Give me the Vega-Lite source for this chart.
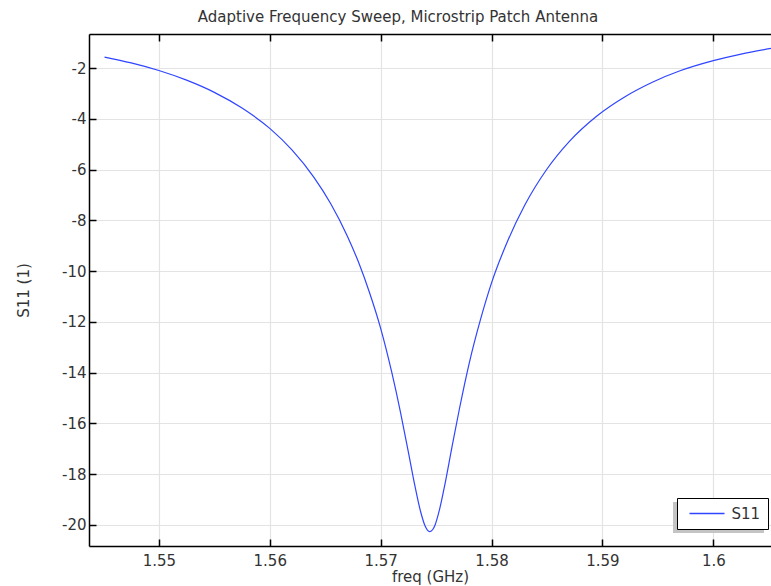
{
  "$schema": "https://vega.github.io/schema/vega-lite/v6.json",
  "width": 682,
  "height": 512,
  "autosize": {"type": "none"},
  "padding": {"left": 89, "top": 34, "right": 0, "bottom": 40},
  "background": "white",
  "config": {
    "view": {"stroke": null},
    "font": "DejaVu Sans"
  },
  "title": {
    "text": "Adaptive Frequency Sweep, Microstrip Patch Antenna",
    "fontSize": 15,
    "fontWeight": "normal",
    "color": "#333333",
    "anchor": "middle",
    "dx": -32,
    "offset": 8
  },
  "data": {
    "values": [
      {"freq": 1.5451, "s11": -1.56, "series": "S11"},
      {"freq": 1.5475, "s11": -1.79, "series": "S11"},
      {"freq": 1.5500, "s11": -2.09, "series": "S11"},
      {"freq": 1.5525, "s11": -2.47, "series": "S11"},
      {"freq": 1.5550, "s11": -2.95, "series": "S11"},
      {"freq": 1.5575, "s11": -3.57, "series": "S11"},
      {"freq": 1.5600, "s11": -4.37, "series": "S11"},
      {"freq": 1.5620, "s11": -5.22, "series": "S11"},
      {"freq": 1.5640, "s11": -6.31, "series": "S11"},
      {"freq": 1.5655, "s11": -7.34, "series": "S11"},
      {"freq": 1.5670, "s11": -8.62, "series": "S11"},
      {"freq": 1.5680, "s11": -9.64, "series": "S11"},
      {"freq": 1.5690, "s11": -10.85, "series": "S11"},
      {"freq": 1.5700, "s11": -12.25, "series": "S11"},
      {"freq": 1.5710, "s11": -13.98, "series": "S11"},
      {"freq": 1.5718, "s11": -15.58, "series": "S11"},
      {"freq": 1.5725, "s11": -17.13, "series": "S11"},
      {"freq": 1.5731, "s11": -18.48, "series": "S11"},
      {"freq": 1.5736, "s11": -19.47, "series": "S11"},
      {"freq": 1.5740, "s11": -20.03, "series": "S11"},
      {"freq": 1.5742, "s11": -20.19, "series": "S11"},
      {"freq": 1.57444, "s11": -20.26, "series": "S11"},
      {"freq": 1.5747, "s11": -20.18, "series": "S11"},
      {"freq": 1.5749, "s11": -20.01, "series": "S11"},
      {"freq": 1.5753, "s11": -19.41, "series": "S11"},
      {"freq": 1.5758, "s11": -18.39, "series": "S11"},
      {"freq": 1.5764, "s11": -17.00, "series": "S11"},
      {"freq": 1.5771, "s11": -15.43, "series": "S11"},
      {"freq": 1.5780, "s11": -13.60, "series": "S11"},
      {"freq": 1.5790, "s11": -11.91, "series": "S11"},
      {"freq": 1.5800, "s11": -10.46, "series": "S11"},
      {"freq": 1.5815, "s11": -8.76, "series": "S11"},
      {"freq": 1.5830, "s11": -7.39, "series": "S11"},
      {"freq": 1.5850, "s11": -5.97, "series": "S11"},
      {"freq": 1.5870, "s11": -4.89, "series": "S11"},
      {"freq": 1.5895, "s11": -3.88, "series": "S11"},
      {"freq": 1.5920, "s11": -3.13, "series": "S11"},
      {"freq": 1.5945, "s11": -2.55, "series": "S11"},
      {"freq": 1.5970, "s11": -2.10, "series": "S11"},
      {"freq": 1.6000, "s11": -1.70, "series": "S11"},
      {"freq": 1.6025, "s11": -1.44, "series": "S11"},
      {"freq": 1.6052, "s11": -1.22, "series": "S11"}
    ]
  },
  "resolve": {"axis": {"x": "independent", "y": "independent"}},
  "layer": [
    {
      "mark": {"type": "line", "strokeWidth": 1.2, "interpolate": "monotone", "clip": true},
      "encoding": {
        "x": {
          "field": "freq",
          "type": "quantitative",
          "scale": {"domain": [1.5437, 1.6052], "nice": false, "zero": false},
          "axis": {
            "orient": "bottom",
            "values": [1.55, 1.56, 1.57, 1.58, 1.59, 1.6],
            "labelExpr": "'' + datum.value",
            "title": "freq (GHz)",
            "titleFontSize": 15,
            "titleFontWeight": "normal",
            "titleColor": "#333333",
            "titlePadding": 1,
            "labelFontSize": 15,
            "labelColor": "#333333",
            "labelPadding": 7,
            "ticks": false,
            "domainColor": "#000000",
            "domainWidth": 1.5,
            "grid": true,
            "gridColor": "#e3e3e3",
            "gridWidth": 1.2
          }
        },
        "y": {
          "field": "s11",
          "type": "quantitative",
          "scale": {"domain": [-20.83, -0.65], "nice": false, "zero": false},
          "axis": {
            "values": [-20, -18, -16, -14, -12, -10, -8, -6, -4, -2],
            "labelExpr": "'' + datum.value",
            "title": "S11 (1)",
            "titleFontSize": 15,
            "titleFontWeight": "normal",
            "titleColor": "#333333",
            "titlePadding": 30,
            "labelFontSize": 15,
            "labelColor": "#333333",
            "labelPadding": 3,
            "ticks": false,
            "domainColor": "#000000",
            "domainWidth": 1.5,
            "grid": true,
            "gridColor": "#e3e3e3",
            "gridWidth": 1.2
          }
        },
        "color": {
          "field": "series",
          "type": "nominal",
          "scale": {"range": ["#2f45ff"]},
          "legend": {
            "title": null,
            "orient": "none",
            "legendX": 588,
            "legendY": 464,
            "zindex": 2,
            "strokeColor": "#000000",
            "fillColor": "#ffffff",
            "padding": 7.5,
            "clipHeight": 16,
            "symbolOffset": 4,
            "labelOffset": 6,
            "symbolType": "M-1,0H1",
            "symbolSize": 1225,
            "symbolStrokeWidth": 1.3,
            "labelFontSize": 15,
            "labelColor": "#333333"
          }
        }
      }
    },
    {
      "mark": {"type": "line", "opacity": 0},
      "encoding": {
        "x": {
          "field": "freq",
          "type": "quantitative",
          "axis": {
            "orient": "bottom",
            "offset": -7,
            "values": [1.55, 1.56, 1.57, 1.58, 1.59, 1.6],
            "labels": false,
            "title": null,
            "grid": false,
            "domain": false,
            "tickSize": 7,
            "tickColor": "#000000",
            "tickWidth": 1.5
          }
        },
        "y": {
          "field": "s11",
          "type": "quantitative",
          "axis": {
            "orient": "left",
            "offset": -7,
            "values": [-20, -18, -16, -14, -12, -10, -8, -6, -4, -2],
            "labels": false,
            "title": null,
            "grid": false,
            "domain": false,
            "tickSize": 7,
            "tickColor": "#000000",
            "tickWidth": 1.5
          }
        },
        "strokeDash": {
          "field": "series",
          "type": "nominal",
          "scale": {"domain": ["S11"], "range": [[1, 0]]},
          "legend": {
            "title": null,
            "orient": "none",
            "legendX": 584,
            "legendY": 468,
            "zindex": 1,
            "strokeColor": null,
            "fillColor": "#c4c4c4",
            "padding": 7.5,
            "clipHeight": 16,
            "symbolOffset": 4,
            "labelOffset": 6,
            "labelExpr": "''",
            "symbolType": "M-1,0H1",
            "symbolSize": 4045,
            "symbolStrokeColor": "#c4c4c4",
            "labelColor": "#c4c4c4",
            "labelFontSize": 15
          }
        }
      }
    },
    {
      "mark": {"type": "line", "opacity": 0},
      "encoding": {
        "x": {
          "field": "freq",
          "type": "quantitative",
          "axis": {
            "orient": "top",
            "values": [1.55, 1.56, 1.57, 1.58, 1.59, 1.6],
            "labels": false,
            "ticks": false,
            "title": null,
            "grid": false,
            "domainColor": "#000000",
            "domainWidth": 1.5
          }
        },
        "y": {"field": "s11", "type": "quantitative", "axis": null}
      }
    },
    {
      "mark": {"type": "line", "opacity": 0},
      "encoding": {
        "x": {
          "field": "freq",
          "type": "quantitative",
          "axis": {
            "orient": "top",
            "offset": -7,
            "values": [1.55, 1.56, 1.57, 1.58, 1.59, 1.6],
            "labels": false,
            "title": null,
            "grid": false,
            "domain": false,
            "tickSize": 7,
            "tickColor": "#000000",
            "tickWidth": 1.5
          }
        },
        "y": {"field": "s11", "type": "quantitative", "axis": null}
      }
    }
  ]
}
